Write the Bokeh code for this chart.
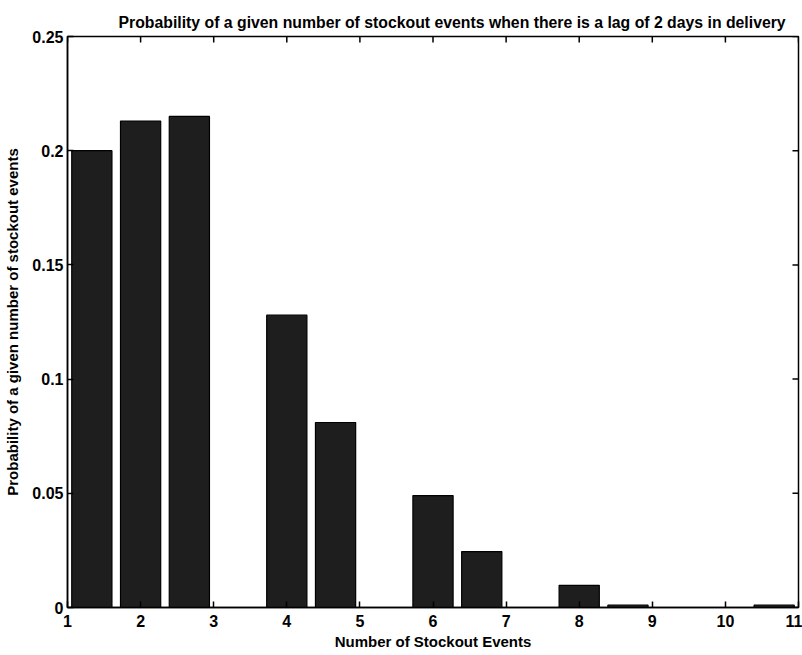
import math
from bokeh.plotting import figure
from bokeh.models import LinearAxis, FixedTicker, Range1d, Title
from bokeh.embed import file_html
from bokeh.resources import INLINE

# Histogram bins (centres) and probabilities
bin_centres = [1.333, 2.0, 2.667, 3.333, 4.0, 4.667, 5.333, 6.0, 6.667, 7.333, 8.0, 8.667, 9.333, 10.0, 10.667]
probabilities = [0.200, 0.213, 0.215, 0.0, 0.128, 0.081, 0.0, 0.049, 0.0245, 0.0, 0.0097, 0.001, 0.0, 0.0, 0.001]
x_ticks = [1, 2, 3, 4, 5, 6, 7, 8, 9, 10, 11]
y_ticks = [0, 0.05, 0.1, 0.15, 0.2, 0.25]
y_tick_labels = {0: "0", 0.05: "0.05", 0.1: "0.1", 0.15: "0.15", 0.2: "0.2", 0.25: "0.25"}
x_min, x_max = 1, 11
y_min, y_max = 0, 0.25

FONT = "Liberation Sans"

p = figure(width=802, height=655, output_backend="svg", toolbar_location=None,
           x_range=Range1d(x_min, x_max), y_range=Range1d(y_min, y_max),
           x_axis_type=None, y_axis_type=None,
           min_border_left=67, min_border_right=4, min_border_top=36, min_border_bottom=48)
p.grid.visible = False
p.outline_line_color = "black"
p.outline_line_width = 1.5
p.background_fill_color = "white"
p.border_fill_color = "white"

p.vbar(x=bin_centres, top=probabilities, bottom=0, width=0.55,
       fill_color="#1e1e1e", line_color="black", line_width=1.2)

# inward ticks on the top and right edges of the box (clipped to the frame)
p.scatter(x=x_ticks, y=[y_max] * len(x_ticks), marker="dash", size=12, angle=math.pi / 2,
          line_color="black", line_width=1.5)
p.scatter(x=[x_max] * len(y_ticks), y=y_ticks, marker="dash", size=12,
          line_color="black", line_width=1.5)


def style(ax):
    ax.axis_line_color = "black"
    ax.axis_line_width = 1.5
    ax.major_tick_in = 6
    ax.major_tick_out = 0
    ax.major_tick_line_width = 1.5
    ax.minor_tick_in = 0
    ax.minor_tick_out = 0
    ax.major_label_text_font = FONT
    ax.major_label_text_font_style = "bold"
    ax.major_label_text_font_size = "16px"
    ax.major_label_text_color = "black"
    ax.axis_label_text_font = FONT
    ax.axis_label_text_font_style = "bold"
    ax.axis_label_text_font_size = "15px"
    ax.axis_label_text_color = "black"


xb = LinearAxis(ticker=FixedTicker(ticks=x_ticks), axis_label="Number of Stockout Events")
style(xb)
xb.major_label_standoff = 7
xb.axis_label_standoff = 3
p.add_layout(xb, "below")

yl = LinearAxis(ticker=FixedTicker(ticks=y_ticks),
                axis_label="Probability of a given number of stockout events")
style(yl)
yl.major_label_overrides = y_tick_labels
yl.major_label_standoff = 4
yl.axis_label_standoff = 8
p.add_layout(yl, "left")

t = Title(text="Probability of a given number of stockout events when there is a lag of 2 days in delivery",
          text_font=FONT, text_font_style="bold", text_font_size="15.8px", text_color="black",
          align="left", offset=51, standoff=12)
p.add_layout(t, "above")

open("out.html", "w").write(file_html(p, INLINE))
